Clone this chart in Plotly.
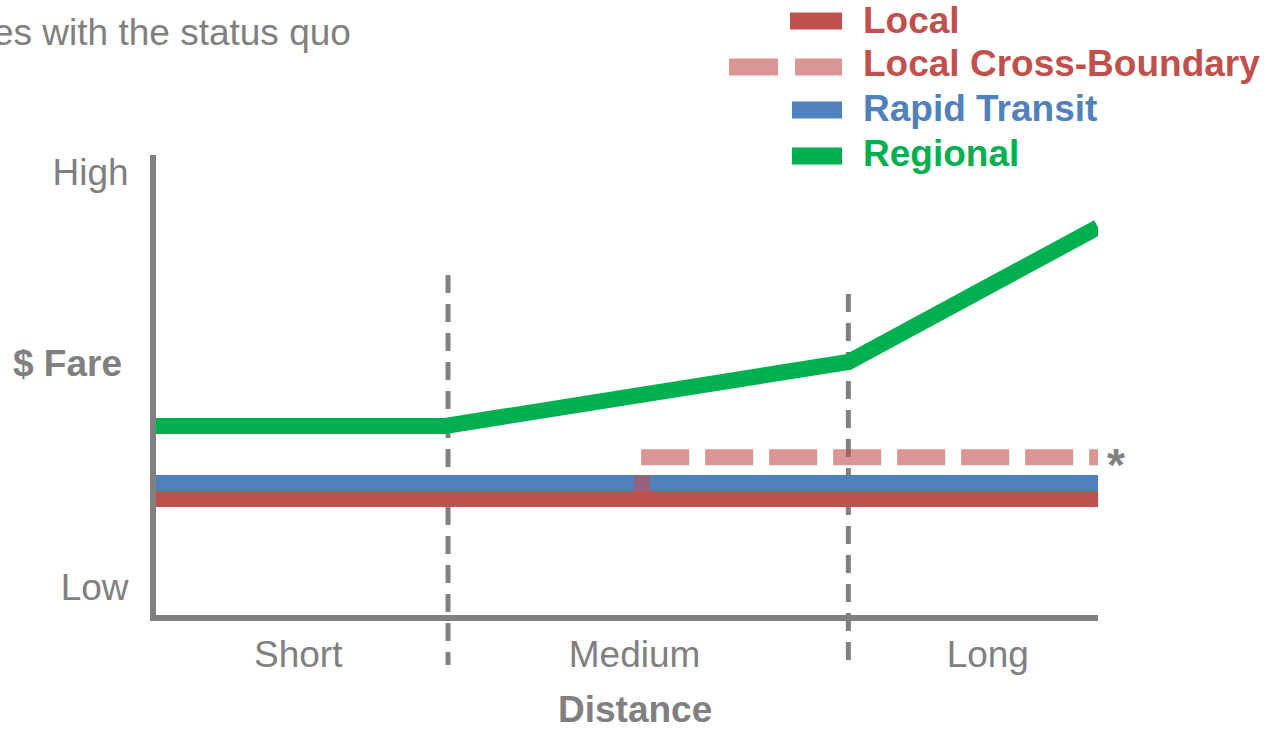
import plotly.graph_objects as go

# ---------------- data ----------------
series_names = ["Local", "Local Cross-Boundary", "Rapid Transit", "Regional"]

flat_x = [0, 10]
local_fare = [2.52, 2.52]
rapid_fare = [2.87, 2.87]

cross_x = [5.15, 10]
cross_fare = [3.43, 3.43]
cross_hook_x = [5.16, 5.16]
cross_hook_fare = [2.70, 3.04]

regional_x = [0, 3.07, 7.35, 10]
regional_fare = [4.11, 4.11, 5.50, 8.43]

zone_bounds = [3.10, 7.35]

x_tick_vals = [1.51, 5.08, 8.83]
x_tick_text = ["Short", "Medium", "Long"]
y_tick_vals = [0.61, 9.63]
y_tick_text = ["Low", "High"]

title_text = "es with the status quo"
y_title = "$ Fare"
x_title = "Distance"
note_mark = "*"

# ---------------- style ----------------
W, H = 1268, 731
ML, MR, MT, MB = 156, 170, 155, 116
PW, PH = W - ML - MR, H - MT - MB

RED = "#C0504D"
PINK = "rgba(192,80,77,0.6)"
BLUE = "#4F81BD"
GREEN = "#00B050"
GRAY = "#808080"
FONT = "Arial, Liberation Sans, sans-serif"
FS = 37


def px_x(px):
    return (px - ML) / PW


def px_y(py):
    return (H - MB - py) / PH


fig = go.Figure()

fig.add_trace(go.Scatter(x=flat_x, y=local_fare, mode="lines",
                         line=dict(color=RED, width=16), showlegend=False, hoverinfo="skip"))
fig.add_trace(go.Scatter(x=flat_x, y=rapid_fare, mode="lines",
                         line=dict(color=BLUE, width=16), showlegend=False, hoverinfo="skip"))
fig.add_trace(go.Scatter(x=cross_hook_x, y=cross_hook_fare, mode="lines",
                         line=dict(color=PINK, width=16), showlegend=False, hoverinfo="skip"))
fig.add_trace(go.Scatter(x=cross_x, y=cross_fare, mode="lines",
                         line=dict(color=PINK, width=16, dash="48px,16px"),
                         showlegend=False, hoverinfo="skip"))
fig.add_trace(go.Scatter(x=regional_x, y=regional_fare, mode="lines",
                         line=dict(color=GREEN, width=16), showlegend=False, hoverinfo="skip"))

# zone boundary dashed lines
bound_tops = [275, 294]
bound_bottoms = [665, 660]
for xb, t, b in zip(zone_bounds, bound_tops, bound_bottoms):
    fig.add_shape(type="line", xref="x", yref="paper", x0=xb, x1=xb,
                  y0=px_y(t), y1=px_y(b), layer="below",
                  line=dict(color=GRAY, width=5, dash="18px,11px"))

# custom legend
legend_colors = [RED, PINK, BLUE, GREEN]
legend_text_colors = [RED, RED, BLUE, GREEN]
legend_rows = [21, 67, 110, 156]
legend_text_rows = [20, 64, 109, 154]
legend_x0 = [790, 729, 792, 792]
legend_dash = ["solid", "49px,17px", "solid", "solid"]
for name, c, tc, yr, ty, x0, d in zip(series_names, legend_colors, legend_text_colors,
                                       legend_rows, legend_text_rows, legend_x0, legend_dash):
    fig.add_shape(type="line", xref="paper", yref="paper",
                  x0=px_x(x0), x1=px_x(842), y0=px_y(yr), y1=px_y(yr),
                  line=dict(color=c, width=17, dash=d))
    fig.add_annotation(xref="paper", yref="paper", x=px_x(861), y=px_y(ty),
                       xanchor="left", yanchor="middle", showarrow=False,
                       text=f"<b>{name}</b>", font=dict(family=FONT, size=FS, color=tc))

# texts
fig.add_annotation(xref="paper", yref="paper", x=px_x(353), y=px_y(32),
                   xanchor="right", yanchor="middle", showarrow=False,
                   text=title_text, font=dict(family=FONT, size=FS, color=GRAY))
fig.add_annotation(xref="paper", yref="paper", x=px_x(124), y=px_y(363),
                   xanchor="right", yanchor="middle", showarrow=False,
                   text=f"<b>{y_title}</b>", font=dict(family=FONT, size=FS, color=GRAY))
fig.add_annotation(xref="paper", yref="paper", x=px_x(635), y=px_y(709),
                   xanchor="center", yanchor="middle", showarrow=False,
                   text=f"<b>{x_title}</b>", font=dict(family=FONT, size=FS, color=GRAY))
fig.add_annotation(xref="paper", yref="paper", x=px_x(1116), y=px_y(465),
                   xanchor="center", yanchor="middle", showarrow=False,
                   text=f"<b>{note_mark}</b>", font=dict(family=FONT, size=46, color=GRAY))

fig.update_layout(
    width=W, height=H,
    margin=dict(l=ML, r=MR, t=MT, b=MB, pad=0),
    paper_bgcolor="white", plot_bgcolor="white",
    showlegend=False,
    xaxis=dict(range=[0, 10], showgrid=False, zeroline=False, showline=True,
               linecolor=GRAY, linewidth=6, ticks="",
               tickvals=x_tick_vals, ticktext=x_tick_text, ticklabelstandoff=2,
               tickfont=dict(family=FONT, size=FS, color=GRAY), fixedrange=True),
    yaxis=dict(range=[0, 10], showgrid=False, zeroline=False, showline=True,
               linecolor=GRAY, linewidth=6, ticks="",
               tickvals=y_tick_vals, ticktext=y_tick_text, ticklabelstandoff=14,
               tickfont=dict(family=FONT, size=FS, color=GRAY), fixedrange=True),
)

fig.write_html("out.html")
